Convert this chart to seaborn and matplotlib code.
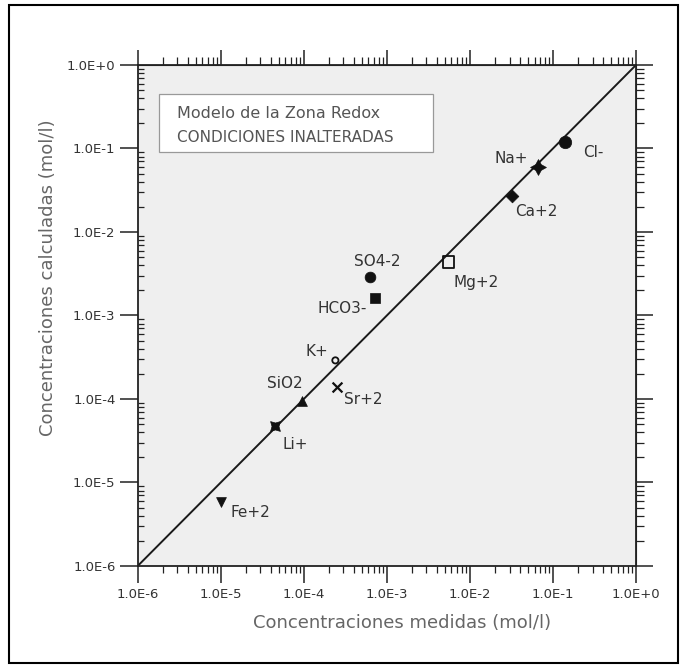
import numpy as np
import pandas as pd
import matplotlib
matplotlib.use("Agg")
import matplotlib.pyplot as plt
import seaborn as sns
from matplotlib.ticker import LogLocator, NullFormatter
from matplotlib.patches import Rectangle

# ---- data ----
especies = ["Cl-", "Na+", "Ca+2", "Mg+2", "SO4-2", "HCO3-", "K+", "SiO2", "Sr+2", "Li+", "Fe+2"]
medidas = [0.14, 0.066, 0.032, 0.0055, 6.3e-4, 7.2e-4, 2.4e-4, 9.5e-5, 2.5e-4, 4.5e-5, 1.0e-5]
calculadas = [0.12, 0.060, 0.027, 0.0044, 2.9e-3, 1.6e-3, 2.9e-4, 9.5e-5, 1.4e-4, 4.7e-5, 5.9e-6]
linea_ref = [1e-6, 1e0]
ticks_dec = [1e-6, 1e-5, 1e-4, 1e-3, 1e-2, 1e-1, 1e0]
etiquetas_ticks = ["1.0E-6", "1.0E-5", "1.0E-4", "1.0E-3", "1.0E-2", "1.0E-1", "1.0E+0"]
titulo_caja = ["Modelo de la Zona Redox", "CONDICIONES INALTERADAS"]
xlabel = "Concentraciones medidas (mol/l)"
ylabel = "Concentraciones calculadas (mol/l)"

# ---- styles ----
estilos = {
    "Cl-":   dict(marker="o", s=80, filled=True, off=(13, -8), ha="left"),
    "Na+":   dict(marker=(4, 1, 0), s=130, filled=True, off=(-7, 6), ha="right"),
    "Ca+2":  dict(marker="D", s=42, filled=True, off=(2, -11), ha="left"),
    "Mg+2":  dict(marker="s", s=70, filled=False, off=(4, -15), ha="left"),
    "SO4-2": dict(marker="o", s=60, filled=True, off=(5, 11), ha="center"),
    "HCO3-": dict(marker="s", s=60, filled=True, off=(-6, -7), ha="right"),
    "K+":    dict(marker="o", s=20, filled=False, off=(-5, 6.5), ha="right"),
    "SiO2":  dict(marker="^", s=50, filled=True, off=(-12, 12.5), ha="center"),
    "Sr+2":  dict(marker="x", s=50, filled=True, off=(5, -9.5), ha="left"),
    "Li+":   dict(marker=(4, 1, 45), s=100, filled=True, off=(5.5, -13), ha="left"),
    "Fe+2":  dict(marker="v", s=50, filled=True, off=(7, -8), ha="left"),
}

sns.set_style("white")
plt.rcParams["font.family"] = ["DejaVu Sans"]

fig = plt.figure(figsize=(6.87, 6.68), dpi=100)
ax = fig.add_axes([0.2004, 0.1527, 0.7254, 0.75])
ax.set_facecolor("#efefef")
ax.set_xscale("log")
ax.set_yscale("log")

df = pd.DataFrame({"especie": especies, "medida": medidas, "calculada": calculadas})

sns.lineplot(x=linea_ref, y=linea_ref, ax=ax, color="#1a1a1a", lw=1.4, zorder=2)

for esp in especies:
    st = estilos[esp]
    sub = df[df["especie"] == esp]
    if st["marker"] == "x":
        sns.scatterplot(data=sub, x="medida", y="calculada", marker="x", s=st["s"],
                        color="#111111", linewidth=1.6, ax=ax, legend=False, zorder=3)
    elif st["filled"]:
        sns.scatterplot(data=sub, x="medida", y="calculada", marker=st["marker"], s=st["s"],
                        color="#111111", edgecolor="#111111", linewidth=0.5, ax=ax,
                        legend=False, zorder=3)
    else:
        sns.scatterplot(data=sub, x="medida", y="calculada", marker=st["marker"], s=st["s"],
                        facecolors="none", edgecolor="#111111", linewidth=1.3, ax=ax,
                        legend=False, zorder=3)
    row = sub.iloc[0]
    ax.annotate(esp, (row["medida"], row["calculada"]), xytext=st["off"],
                textcoords="offset points", ha=st["ha"], va="center",
                fontsize=11, color="#333333", zorder=4)

ax.set_xlim(1e-6, 1e0)
ax.set_ylim(1e-6, 1e0)

ax.set_xticks(ticks_dec, etiquetas_ticks)
ax.set_yticks(ticks_dec, etiquetas_ticks)
ax.xaxis.set_minor_locator(LogLocator(base=10, subs=np.arange(2, 10), numticks=20))
ax.yaxis.set_minor_locator(LogLocator(base=10, subs=np.arange(2, 10), numticks=20))
ax.xaxis.set_minor_formatter(NullFormatter())
ax.yaxis.set_minor_formatter(NullFormatter())

ax.tick_params(axis="x", which="major", direction="out", length=12, width=1.1,
               pad=4, labelsize=9.5, color="#222222", labelcolor="#333333")
ax.tick_params(axis="x", which="minor", direction="out", length=5, width=0.9, color="#222222")
ax.tick_params(axis="y", which="major", direction="out", length=13, width=1.1,
               pad=3, labelsize=9.5, color="#222222", labelcolor="#333333")
ax.tick_params(axis="y", which="minor", direction="in", length=4.5, width=0.9, color="#222222")
ax.tick_params(which="both", top=False, right=False, bottom=True, left=True)

for sp in ax.spines.values():
    sp.set_visible(True)
    sp.set_color("#222222")
    sp.set_linewidth(1.3)

secx = ax.secondary_xaxis("top")
secx.set_xticks(ticks_dec)
secx.xaxis.set_minor_locator(LogLocator(base=10, subs=np.arange(2, 10), numticks=20))
secx.xaxis.set_major_formatter(NullFormatter())
secx.xaxis.set_minor_formatter(NullFormatter())
secx.tick_params(which="major", direction="out", length=11, width=1.1, color="#222222")
secx.tick_params(which="minor", direction="out", length=6, width=0.9, color="#222222")
secx.spines["top"].set_color("#222222")

secy = ax.secondary_yaxis("right")
secy.set_yticks(ticks_dec)
secy.yaxis.set_minor_locator(LogLocator(base=10, subs=np.arange(2, 10), numticks=20))
secy.yaxis.set_major_formatter(NullFormatter())
secy.yaxis.set_minor_formatter(NullFormatter())
secy.tick_params(which="major", direction="out", length=12, width=1.1, color="#222222")
secy.tick_params(which="minor", direction="out", length=6, width=0.9, color="#222222")
secy.spines["right"].set_color("#222222")

ax.set_xlabel(xlabel, fontsize=13, color="#666666")
ax.set_ylabel(ylabel, fontsize=13, color="#666666")
ax.xaxis.set_label_coords(0.53, -0.114)
ax.xaxis.label.set_va("center")
ax.yaxis.set_label_coords(-0.18, 0.575)
ax.yaxis.label.set_va("center")

# text box
ax.add_patch(Rectangle((0.0427, 0.826), 0.55, 0.116, transform=ax.transAxes,
                       facecolor="white", edgecolor="#999999", lw=0.9, zorder=2))
ax.text(0.079, 0.904, titulo_caja[0], transform=ax.transAxes, fontsize=11.5,
        color="#555555", va="center", ha="left", zorder=3)
ax.text(0.079, 0.856, titulo_caja[1], transform=ax.transAxes, fontsize=11,
        color="#555555", va="center", ha="left", zorder=3)

# outer frame
fig.add_artist(Rectangle((9 / 687, 1 - 663 / 668), (678 - 9) / 687, (663 - 5) / 668,
                         transform=fig.transFigure, fill=False, edgecolor="black", lw=1.5))

fig.savefig("out.png", dpi=100)
